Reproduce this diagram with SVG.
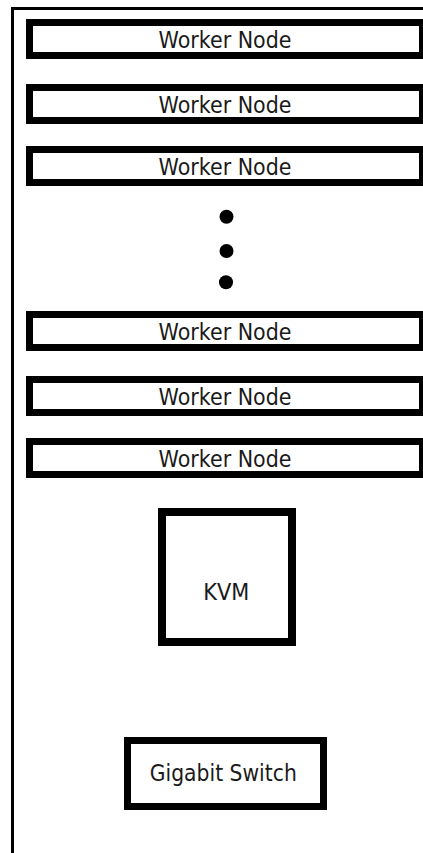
<svg xmlns="http://www.w3.org/2000/svg" width="423" height="853" viewBox="0 0 423 853">
<style>
.box{fill:#fff;stroke:#000;stroke-width:7}
.lbl{font-family:"DejaVu Sans","Liberation Sans",sans-serif;font-size:23px;fill:#1a1a1a;text-anchor:middle}
.dot{fill:#000}
.frame{fill:none;stroke:#000;stroke-width:3}
</style>
<rect x="0" y="0" width="423" height="853" fill="#fff"/>
<path class="frame" d="M12.5 853 V8.5 H423"/>
<g id="worker1"><rect class="box" x="29.5" y="22.5" width="393" height="33"/><text class="lbl" x="225" y="47.5" textLength="133" lengthAdjust="spacingAndGlyphs">Worker Node</text></g>
<g id="worker2"><rect class="box" x="29.5" y="87.5" width="393" height="33"/><text class="lbl" x="225" y="112.5" textLength="133" lengthAdjust="spacingAndGlyphs">Worker Node</text></g>
<g id="worker3"><rect class="box" x="29.5" y="149.5" width="393" height="33"/><text class="lbl" x="225" y="174.5" textLength="133" lengthAdjust="spacingAndGlyphs">Worker Node</text></g>
<g id="ellipsis"><circle class="dot" cx="226.5" cy="216.7" r="7"/><circle class="dot" cx="226.5" cy="251" r="7"/><circle class="dot" cx="226" cy="282.3" r="7"/></g>
<g id="worker4"><rect class="box" x="29.5" y="314.5" width="393" height="33"/><text class="lbl" x="225" y="339.5" textLength="133" lengthAdjust="spacingAndGlyphs">Worker Node</text></g>
<g id="worker5"><rect class="box" x="29.5" y="379.5" width="393" height="33"/><text class="lbl" x="225" y="404.5" textLength="133" lengthAdjust="spacingAndGlyphs">Worker Node</text></g>
<g id="worker6"><rect class="box" x="29.5" y="441.5" width="393" height="33"/><text class="lbl" x="225" y="466.5" textLength="133" lengthAdjust="spacingAndGlyphs">Worker Node</text></g>
<g id="kvm"><rect class="box" x="162" y="512" width="130" height="130" style="stroke-width:8"/><text class="lbl" x="226.3" y="600" textLength="46" lengthAdjust="spacingAndGlyphs">KVM</text></g>
<g id="switch"><rect class="box" x="127.5" y="740.5" width="196" height="66"/><text class="lbl" x="223.3" y="781" textLength="147" lengthAdjust="spacingAndGlyphs">Gigabit Switch</text></g>
<g id="connectors"></g>
</svg>
